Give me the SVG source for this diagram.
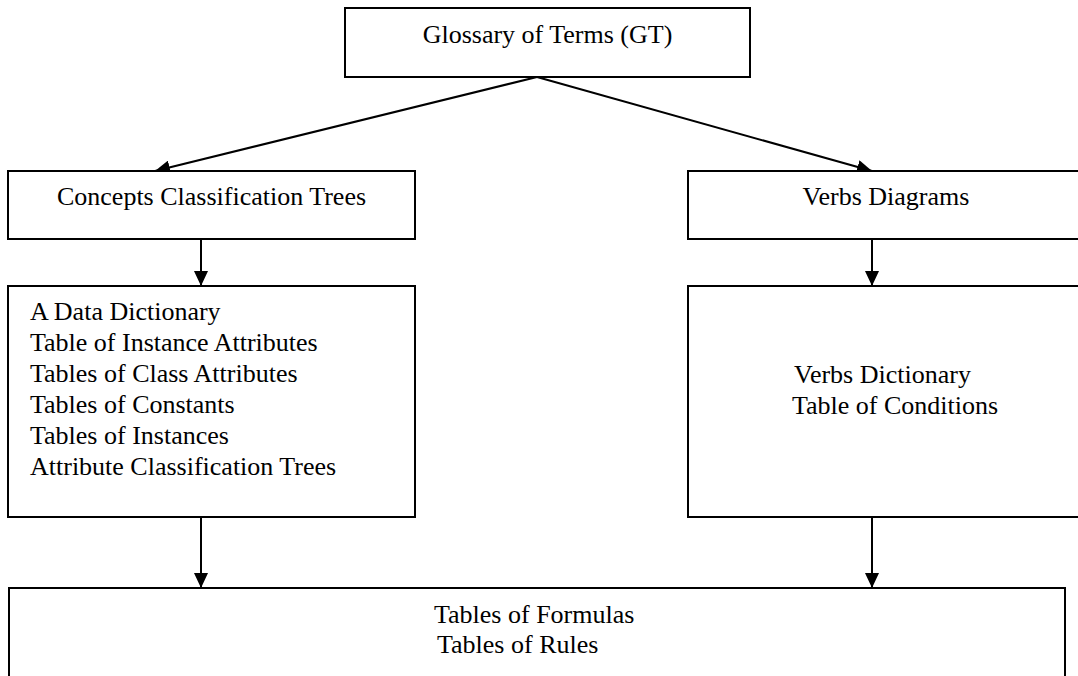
<svg xmlns="http://www.w3.org/2000/svg" width="1078" height="676" viewBox="0 0 1078 676">
  <style>
    .box { fill: #ffffff; stroke: #000000; stroke-width: 2; }
    .label { font-family: "Liberation Serif", "Times New Roman", serif; font-size: 26px; fill: #000000; }
    .mid { text-anchor: middle; }
    .edge { stroke: #000000; stroke-width: 2; fill: none; marker-end: url(#arrow); }
  </style>
  <defs>
    <marker id="arrow" markerUnits="userSpaceOnUse" markerWidth="15" markerHeight="14" refX="15" refY="7" orient="auto">
      <path d="M0,0 L15,7 L0,14 Z" fill="#000000"/>
    </marker>
  </defs>
  <rect width="1078" height="676" fill="#ffffff"/>

  <g id="connectors">
    <line class="edge" x1="537" y1="77" x2="155" y2="171"/>
    <line class="edge" x1="537" y1="77" x2="872" y2="171"/>
    <line class="edge" x1="201" y1="239" x2="201" y2="286"/>
    <line class="edge" x1="872" y1="239" x2="872" y2="286"/>
    <line class="edge" x1="201" y1="517" x2="201" y2="588"/>
    <line class="edge" x1="872" y1="517" x2="872" y2="588"/>
  </g>

  <g id="glossary">
    <rect class="box" x="345" y="8" width="405" height="69"/>
    <text class="label mid" x="547.5" y="43">Glossary of Terms (GT)</text>
  </g>

  <g id="concepts-trees">
    <rect class="box" x="8" y="171" width="407" height="68"/>
    <text class="label mid" x="211.5" y="205">Concepts Classification Trees</text>
  </g>

  <g id="verbs-diagrams">
    <rect class="box" x="688" y="171" width="400" height="68"/>
    <text class="label mid" x="886" y="205">Verbs Diagrams</text>
  </g>

  <g id="data-dictionary">
    <rect class="box" x="8" y="286" width="407" height="231"/>
    <text class="label" x="30" y="320">A Data Dictionary</text>
    <text class="label" x="30" y="351">Table of Instance Attributes</text>
    <text class="label" x="30" y="382">Tables of Class Attributes</text>
    <text class="label" x="30" y="413">Tables of Constants</text>
    <text class="label" x="30" y="444">Tables of Instances</text>
    <text class="label" x="30" y="475">Attribute Classification Trees</text>
  </g>

  <g id="verbs-dictionary">
    <rect class="box" x="688" y="286" width="400" height="231"/>
    <text class="label" x="794" y="383">Verbs Dictionary</text>
    <text class="label" x="792" y="414">Table of Conditions</text>
  </g>

  <g id="formulas-rules">
    <rect class="box" x="9" y="588" width="1056" height="100"/>
    <text class="label" x="434" y="623">Tables of Formulas</text>
    <text class="label" x="437" y="653">Tables of Rules</text>
  </g>
</svg>
